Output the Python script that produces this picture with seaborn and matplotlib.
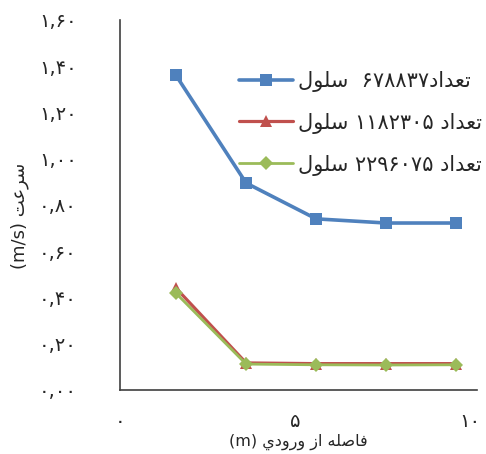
import pandas as pd
import numpy as np
import matplotlib.pyplot as plt
import seaborn as sns

_ = sns.set_style('white')
plt.rcParams['font.family'] = ['DejaVu Sans']

# Arabic presentation forms: isolated, final, initial, medial
FORMS = {
    'ا': ('\uFE8D', '\uFE8E', None, None),
    'ت': ('\uFE95', '\uFE96', '\uFE97', '\uFE98'),
    'د': ('\uFEA9', '\uFEAA', None, None),
    'ر': ('\uFEAD', '\uFEAE', None, None),
    'ز': ('\uFEAF', '\uFEB0', None, None),
    'س': ('\uFEB1', '\uFEB2', '\uFEB3', '\uFEB4'),
    'ص': ('\uFEB9', '\uFEBA', '\uFEBB', '\uFEBC'),
    'ع': ('\uFEC9', '\uFECA', '\uFECB', '\uFECC'),
    'ف': ('\uFED1', '\uFED2', '\uFED3', '\uFED4'),
    'ل': ('\uFEDD', '\uFEDE', '\uFEDF', '\uFEE0'),
    'ه': ('\uFEE9', '\uFEEA', '\uFEEB', '\uFEEC'),
    'و': ('\uFEED', '\uFEEE', None, None),
    'ي': ('\uFEF1', '\uFEF2', '\uFEF3', '\uFEF4'),
}


def shape(word):
    out = []
    for i, ch in enumerate(word):
        f = FORMS[ch]
        jp = i > 0 and FORMS[word[i - 1]][2] is not None
        jn = i + 1 < len(word) and f[2] is not None
        if jp and jn:
            out.append(f[3])
        elif jp:
            out.append(f[1])
        elif jn:
            out.append(f[2])
        else:
            out.append(f[0])
    return ''.join(reversed(out))


fa = str.maketrans('0123456789', '۰۱۲۳۴۵۶۷۸۹')

# data
distance = [1.6, 3.6, 5.6, 7.6, 9.6]
cells_678837 = [1.36, 0.895, 0.74, 0.722, 0.722]
cells_1182305 = [0.44, 0.117, 0.114, 0.114, 0.114]
cells_2296075 = [0.418, 0.112, 0.109, 0.108, 0.109]
legend_labels = [
    shape('سلول') + '  ' + '678837'.translate(fa) + shape('تعداد'),
    shape('سلول') + ' ' + '1182305'.translate(fa) + ' ' + shape('تعداد'),
    shape('سلول') + ' ' + '2296075'.translate(fa) + ' ' + shape('تعداد'),
]
x_label = '(m) ' + ' '.join(shape(w) for w in reversed(['فاصله', 'از', 'ورودي']))
y_label = '(m/s) ' + shape('سرعت')

series = [cells_678837, cells_1182305, cells_2296075]
colors = ['#4F81BD', '#C0504D', '#9BBB59']
markers = ['s', '^', 'D']
msizes = [9, 8, 7]
lws = [2.6, 2.3, 2.0]

fig = plt.figure(figsize=(4.86, 4.54), dpi=100)
ax = fig.add_axes([0.247, 0.141, 0.735, 0.815])
for vals, lab, c, m, ms, lw in zip(series, legend_labels, colors, markers, msizes, lws):
    df = pd.DataFrame({'x': distance, 'v': vals})
    sns.lineplot(data=df, x='x', y='v', ax=ax, color=c, marker=m, markersize=ms,
                 markeredgewidth=0, linewidth=lw, label=lab)

ax.set_xlim(0, 10.2)
ax.set_ylim(0, 1.6)
yt = np.arange(0, 1.61, 0.2)
ax.set_yticks(yt)
ax.set_yticklabels([f'{v:.2f}'.replace('.', ',').translate(fa) for v in yt], fontsize=14)
ax.set_xticks([0, 5, 10])
ax.set_xticklabels([str(v).translate(fa) for v in [0, 5, 10]], fontsize=14)
ax.tick_params(axis='y', length=0, pad=31)
ax.tick_params(axis='x', length=0, pad=16)
ax.set_xlabel(x_label, fontsize=11.5, labelpad=2)
ax.set_ylabel(y_label, fontsize=13)
ax.yaxis.set_label_coords(-0.255, 0.47)
sns.despine(ax=ax)
for s in ['left', 'bottom']:
    ax.spines[s].set_color('#404040')
    ax.spines[s].set_linewidth(1.2)
ax.legend(loc='upper left', bbox_to_anchor=(0.28, 0.913), frameon=False, fontsize=15,
          handlelength=2.6, labelspacing=1.0, handletextpad=0.25)
fig.savefig('out.png', dpi=100)
